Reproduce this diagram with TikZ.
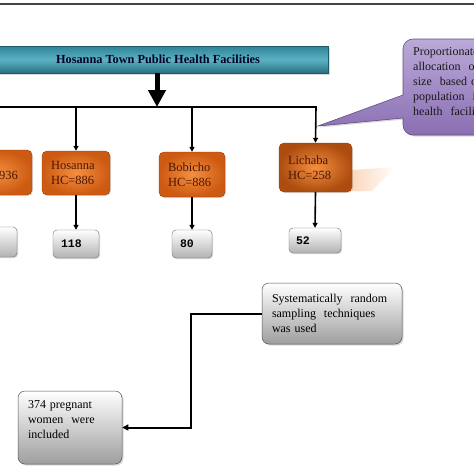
\documentclass[tikz,border=0pt]{standalone}
\usepackage{fontspec}
\setmainfont{Liberation Serif}
\newfontfamily\monof{Liberation Mono}
\usetikzlibrary{arrows.meta,shadows,fadings}
\definecolor{teal1}{HTML}{2F8296}
\definecolor{teal2}{HTML}{5CB2C4}
\definecolor{org1}{HTML}{F58F3F}
\definecolor{org2}{HTML}{CC5A12}
\definecolor{brn}{HTML}{4A1606}
\definecolor{pur1}{HTML}{BBA9D9}
\definecolor{pur2}{HTML}{8A6FB3}
\definecolor{gry}{HTML}{9E9E9E}
\definecolor{edge}{HTML}{555555}
\tikzset{
  hcbox/.style={rectangle, rounded corners=5pt, draw=org2!70!black, line width=0.4pt,
    inner color=org1, outer color=org2, text=brn, font=\fontsize{12.5}{15}\selectfont,
    align=left, inner xsep=9pt, inner ysep=2pt,
    drop shadow={shadow xshift=1pt, shadow yshift=-1pt, opacity=0.25}},
  numbox/.style={rectangle, rounded corners=4pt, draw=gry!70!black, line width=0.4pt,
    top color=white, bottom color=gry!80, font=\monof\bfseries\fontsize{11.5}{13}\selectfont,
    align=left, inner xsep=8pt,
    drop shadow={shadow xshift=1pt, shadow yshift=-1pt, opacity=0.3}},
  infobox/.style={rectangle, rounded corners=7pt, draw=edge, line width=0.5pt,
    top color=white, bottom color=gry, font=\fontsize{12}{15}\selectfont,
    align=left, inner xsep=10pt,
    drop shadow={shadow xshift=1.5pt, shadow yshift=-1.5pt, opacity=0.3}},
  conn/.style={line width=1.6pt, -{Triangle[length=5pt,width=5pt]}},
  bigarrow/.style={line width=5pt, -{Triangle[length=17pt,width=17pt]}},
}
\begin{document}
\begin{tikzpicture}[x=1pt,y=-1pt]
\useasboundingbox (0,0) rectangle (474,474);
\clip (0,0) rectangle (474,474);
\fill[white] (0,0) rectangle (474,474);
% top rule
\draw[edge!80!black, line width=1.5pt] (-5,4) coordinate (tl) -- (480,4) coordinate (tr);
% header
\node[rectangle, draw=teal1!70!black, line width=0.5pt, top color=teal1, bottom color=teal1!85!black,
  middle color=teal2, minimum width=340pt, minimum height=27pt, inner sep=0pt,
  font=\bfseries\fontsize{12.3}{14}\selectfont, text=black!85!blue,
  drop shadow={shadow xshift=1.5pt, shadow yshift=-1.5pt, opacity=0.3}]
  (hdr) at (158,59.5) {Hosanna Town Public Health Facilities};
% distribution line coordinates
\coordinate (hL) at (-5,107);
\coordinate (hH) at (76,107);
\coordinate (hM) at (157,107);
\coordinate (hB) at (192,107);
\coordinate (hR) at (316,107);
\coordinate (tip) at (318,126);
% orange facility boxes
\node[hcbox, minimum width=72pt, minimum height=45pt, text width=44pt, inner xsep=14pt] (hl) at (-4,172.5) {\mbox{}\\\hfill HC=936};
\node[hcbox, minimum width=68pt, minimum height=44pt, text width=50pt] (hos) at (76,173) {Hosanna\\HC=886};
\node[hcbox, minimum width=66pt, minimum height=45pt, text width=48pt] (bob) at (192,174.5) {Bobicho\\HC=886};
\fill[org1!35, path fading=east] (352,170) -- (395,167) -- (372,191) -- (352,191) -- cycle;
\node[hcbox, minimum width=73pt, minimum height=49pt, text width=55pt,
  outer color=org2!85!black] (lic) at (315.5,167.5) {Lichaba\\HC=258};
% grey number boxes
\node[numbox, minimum width=47pt, minimum height=30pt, text width=31pt] (gl) at (-6.5,242) {};
\node[numbox, minimum width=46pt, minimum height=28pt, text width=30pt] (g118) at (76,244) {118};
\node[numbox, minimum width=40pt, minimum height=28pt, text width=24pt] (g80) at (192,244) {80};
\node[numbox, minimum width=52pt, minimum height=25pt, text width=38pt, inner xsep=7pt] (g52) at (315,240.5) {52};
% connectors top part
\draw[bigarrow] (hM |- hdr.south) -- (hM);
\draw[conn] (hL) -- (hR) -- (lic.north);
\draw[conn] (hH) -- (hos.north);
\draw[conn] (hB) -- (bob.north);
\draw[conn] (hos.south) -- (g118.north);
\draw[conn] (bob.south) -- (g80.north);
\draw[conn] (lic.south) -- (g52.north);
% callout
\path[draw=pur2!70!black, line width=0.6pt, top color=pur1, bottom color=pur2,
  drop shadow={shadow xshift=1.5pt, shadow yshift=-1.5pt, opacity=0.3}]
  (403,118) [rounded corners=10pt] -- (403,135) -- (520,135) -- (520,39) -- (403,39)
  [sharp corners] -- (403,95) -- (tip) -- cycle;
\node[anchor=north west, inner sep=0pt, text width=130pt, align=left,
  font=\fontsize{12}{15}\selectfont, text=black!90]
  (callt) at (413,47) {Proportionate\\allocation\ \ of\ \ sample\\size\ \ based on\\population\ \ in each\\health\ \ facility};
% bottom boxes
\node[infobox, minimum width=140pt, minimum height=61pt, text width=120pt] (sys) at (332,313.5)
  {Systematically\ \ random\\sampling\ \ techniques\\was used};
\node[infobox, minimum width=104pt, minimum height=73pt, text width=84pt] (pw) at (70,427.5)
  {374 pregnant\\women\ \ were\\included\\\mbox{}};
\draw[line width=2pt, -{Triangle[length=6pt,width=6pt]}] (sys.west) -- ++(-71,0) |- (pw.east);
\end{tikzpicture}
\end{document}
